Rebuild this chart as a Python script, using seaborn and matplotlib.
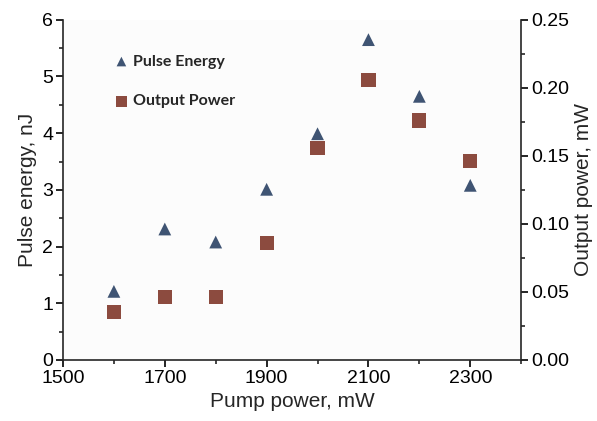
import numpy as np
import pandas as pd
import matplotlib
matplotlib.use('Agg')
import matplotlib.pyplot as plt
import seaborn as sns
from matplotlib.ticker import MultipleLocator

# dados
pump_power = [1600, 1700, 1800, 1900, 2000, 2100, 2200, 2300]
pulse_energy = [1.21, 2.31, 2.08, 3.01, 3.99, 5.65, 4.65, 3.08]
output_power = [0.035, 0.046, 0.046, 0.086, 0.156, 0.206, 0.176, 0.146]

cor_energia = '#3f5473'
cor_potencia = '#8c4b3f'

dados = pd.DataFrame({'pump': pump_power, 'energia': pulse_energy, 'potencia': output_power})

sns.set_style('ticks')
plt.rcParams['font.family'] = ['Liberation Sans', 'DejaVu Sans']

fig = plt.figure(figsize=(5.97, 4.21), dpi=100)
ax = fig.add_axes([0.1055, 0.145, 0.7675, 0.808])
ax.set_facecolor('#fcfcfc')
ax2 = ax.twinx()

sns.scatterplot(data=dados, x='pump', y='energia', marker='^', s=85, color=cor_energia,
                edgecolor='none', ax=ax, label='Pulse Energy', legend=False)
sns.scatterplot(data=dados, x='pump', y='potencia', marker='s', s=105, color=cor_potencia,
                edgecolor='none', ax=ax2, label='Output Power', legend=False)

ax.set_xlim(1500, 2400)
ax.set_ylim(0, 6)
ax2.set_ylim(0, 0.25)

ax.set_xticks([1500, 1700, 1900, 2100, 2300])
ax.xaxis.set_minor_locator(MultipleLocator(100))
ax.yaxis.set_major_locator(MultipleLocator(1))
ax.yaxis.set_minor_locator(MultipleLocator(0.5))
ax2.yaxis.set_major_locator(MultipleLocator(0.05))
ax2.yaxis.set_minor_locator(MultipleLocator(0.025))
ax2.yaxis.set_major_formatter(matplotlib.ticker.FormatStrFormatter('%.2f'))

for a in (ax, ax2):
    a.tick_params(which='major', length=5, width=1.2, labelsize=14, colors='black', pad=2)
    a.tick_params(which='minor', length=3, width=1.2)
    for s in a.spines.values():
        s.set_linewidth(1.2)
    a.spines['top'].set_visible(False)

ax.spines['right'].set_visible(False)
ax2.spines['left'].set_visible(False)
ax2.spines['bottom'].set_visible(False)

ax.set_xlabel('Pump power, mW', fontsize=15, labelpad=4)
ax.set_ylabel('Pulse energy, nJ', fontsize=15, labelpad=4)
ax2.set_ylabel('Output power, mW', fontsize=15, labelpad=4)

h1, l1 = ax.get_legend_handles_labels()
h2, l2 = ax2.get_legend_handles_labels()
leg = ax2.legend(h1 + h2, l1 + l2, loc='upper left', bbox_to_anchor=(0.07, 0.94),
                 frameon=False, handletextpad=0.0, handlelength=1.5, labelspacing=1.6,
                 markerscale=0.75,
                 prop={'family': 'Lato', 'weight': 'bold', 'size': 11.5})

fig.savefig('out.png', dpi=100)
